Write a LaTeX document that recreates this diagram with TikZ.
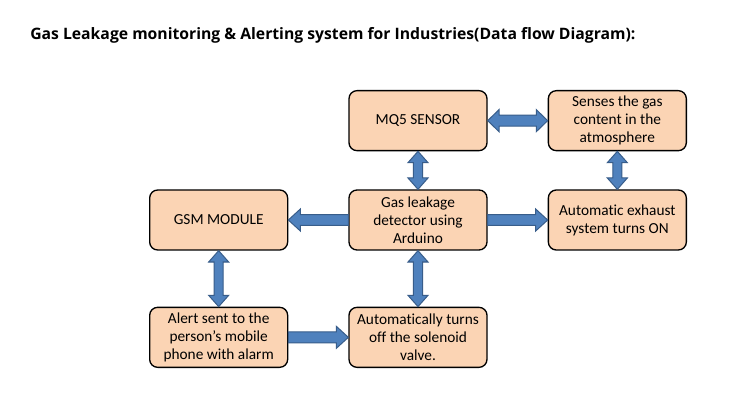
\documentclass[tikz,border=0pt]{standalone}
\usepackage{fontspec}
\setmainfont{Carlito}[Ligatures=NoCommon]
\newfontfamily\titlefont{Open Sans}
\usetikzlibrary{positioning,calc}

\definecolor{boxfill}{HTML}{FBD4B4}
\definecolor{arrowfill}{HTML}{4F81BD}
\definecolor{arrowline}{HTML}{385D8A}

% block arrow with a head at both ends: from, to, head half width, shaft half width
\newcommand{\twoway}[4]{%
  \path[flowarrow] let \p1=(#1), \p2=(#2), \n1={atan2(\y2-\y1,\x2-\x1)}, \n2={veclen(\x2-\x1,\y2-\y1)} in
    {[shift={(\p1)}, rotate=\n1]
    (0pt,0pt) -- (8.5pt,#3) -- (8.5pt,#4) -- ({\n2-8.5pt},#4) -- ({\n2-8.5pt},#3) -- (\n2,0pt)
    -- ({\n2-8.5pt},-#3) -- ({\n2-8.5pt},-#4) -- (8.5pt,-#4) -- (8.5pt,-#3) -- cycle};
}
% block arrow with one head, at the second node
\newcommand{\oneway}[4]{%
  \path[flowarrow] let \p1=(#1), \p2=(#2), \n1={atan2(\y2-\y1,\x2-\x1)}, \n2={veclen(\x2-\x1,\y2-\y1)} in
    {[shift={(\p1)}, rotate=\n1]
    (0pt,#4) -- ({\n2-9pt},#4) -- ({\n2-9pt},#3) -- (\n2,0pt)
    -- ({\n2-9pt},-#3) -- ({\n2-9pt},-#4) -- (0pt,-#4) -- cycle};
}

\begin{document}
\begin{tikzpicture}[x=0.75pt, y=-0.75pt,
  box/.style={draw, line width=1pt, rounded corners=6pt, fill=boxfill, minimum width=103.5pt, minimum height=45pt, align=center, inner sep=2pt, font=\fontsize{11.5}{13.5}\selectfont},
  flowarrow/.style={fill=arrowfill, draw=arrowline, line width=0.75pt},
  node distance=28.5pt and 45pt]
\fill[white] (0,0) rectangle (750,406);
\useasboundingbox (0,0) rectangle (750,406);

\node[anchor=base west, inner sep=0pt, font=\titlefont\bfseries\fontsize{11.8}{14}\selectfont] (title) at (30,40) {Gas Leakage monitoring \& Alerting system for Industries(Data flow Diagram):};

\node[box] (gas) at (418,220) {Gas leakage\\detector using\\Arduino};
\node[box, above=of gas] (mq5) {MQ5 SENSOR};
\node[box, right=of mq5] (senses) {Senses the gas\\content in the\\atmosphere};
\node[box, right=of gas] (exhaust) {Automatic exhaust\\system turns ON};
\node[box, left=of gas] (gsm) {GSM MODULE};
\node[box, below=42pt of gsm] (alert) {Alert sent to the\\person’s mobile\\phone with alarm};
\node[box, below=42pt of gas] (valve) {Automatically turns\\off the solenoid\\valve.};

\twoway{mq5.east}{senses.west}{8.25pt}{4.1pt}
\twoway{mq5.south}{gas.north}{7.5pt}{3.4pt}
\twoway{senses.south}{exhaust.north}{7.5pt}{3.4pt}
\twoway{gsm.south}{alert.north}{7.5pt}{3.4pt}
\twoway{gas.south}{valve.north}{7.5pt}{3.4pt}
\oneway{gas.west}{gsm.east}{8.25pt}{4.1pt}
\oneway{gas.east}{exhaust.west}{8.25pt}{4.1pt}
\oneway{alert.east}{valve.west}{8.25pt}{4.1pt}
\end{tikzpicture}
\end{document}
